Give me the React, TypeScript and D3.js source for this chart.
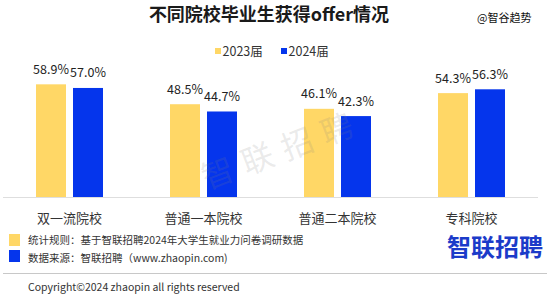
import React from "react";
import * as d3 from "d3";

const categories = ["双一流院校", "普通一本院校", "普通二本院校", "专科院校"];
const seriesNames = ["2023届", "2024届"];
const values2023 = [58.9, 48.5, 46.1, 54.3];
const values2024 = [57.0, 44.7, 42.3, 56.3];
const colors = ["#FFD766", "#0535EC"];
const watermarkChars = ["智", "联", "招", "聘"];

const W = 554;
const H = 295;
const FONT = '"Noto Sans CJK SC", "Noto Sans", sans-serif';

export default function App() {
  const x0 = d3.scaleBand<string>().domain(categories).range([2.5, 538.5]).padding(0);
  const x1 = d3
    .scaleBand<string>()
    .domain(seriesNames)
    .range([x0.bandwidth() / 2 - 33.5, x0.bandwidth() / 2 + 33.5])
    .paddingInner(7 / 37)
    .paddingOuter(0);
  const y = d3.scaleLinear().domain([0, 100]).range([197, 5.7]);
  const series = [values2023, values2024];

  const wmStart: [number, number] = [217, 171];
  const wmEnd: [number, number] = [336, 127];

  return (
    <svg
      width={W}
      height={H}
      style={{ position: "absolute", left: 0, top: 0, background: "#fff" }}
      fontFamily={FONT}
    >
      <rect x={0} y={0} width={W} height={H} fill="#fff" />

      {/* title */}
      <text x={269} y={21} textAnchor="middle" fontSize={18} fontWeight="bold" fill="#1a1a1a">
        不同院校毕业生获得offer情况
      </text>
      <text x={477} y={22} fontSize={11} fill="#111">
        @智谷趋势
      </text>

      {/* legend */}
      {seriesNames.map((s, i) => {
        const lx = [215, 281][i];
        return (
          <g key={s}>
            <rect x={lx} y={48} width={6} height={6} fill={colors[i]} />
            <text x={lx + 7.5} y={56} fontSize={12.5} fill="#333">
              {s}
            </text>
          </g>
        );
      })}

      {/* bars */}
      {categories.map((c, ci) => (
        <g key={c} transform={`translate(${x0(c)},0)`}>
          {seriesNames.map((s, si) => {
            const v = series[si][ci];
            const bx = x1(s) as number;
            return (
              <g key={s}>
                <rect x={bx} y={y(v)} width={x1.bandwidth()} height={y(0) - y(v)} fill={colors[si]} />
                <text
                  x={bx + x1.bandwidth() / 2}
                  y={y(v) - 10.5}
                  textAnchor="middle"
                  fontSize={12.5}
                  fill="#222"
                >
                  {v.toFixed(1)}%
                </text>
              </g>
            );
          })}
          <text
            x={x0.bandwidth() / 2}
            y={222.5}
            textAnchor="middle"
            fontSize={13}
            fill="#333"
          >
            {c}
          </text>
        </g>
      ))}
      <line x1={3} x2={538} y1={197.5} y2={197.5} stroke="#dedede" strokeWidth={1} />

      {/* watermark, drawn over the bars */}
      {watermarkChars.map((ch, i) => {
        const t = i / (watermarkChars.length - 1);
        const cx = wmStart[0] + (wmEnd[0] - wmStart[0]) * t;
        const cy = wmStart[1] + (wmEnd[1] - wmStart[1]) * t;
        return (
          <text
            key={ch}
            x={0}
            y={0}
            transform={`translate(${cx},${cy}) rotate(-21)`}
            textAnchor="middle"
            dominantBaseline="central"
            fontSize={32}
            fill="#808080"
            fillOpacity={0.17}
          >
            {ch}
          </text>
        );
      })}

      {/* footer */}
      <rect x={9} y={234} width={11} height={12} fill={colors[0]} />
      <rect x={9} y={250} width={11} height={12} fill={colors[1]} />
      <text x={28} y={243.5} fontSize={10.5} fill="#333">
        统计规则：基于智联招聘2024年大学生就业力问卷调研数据
      </text>
      <text x={28} y={262} fontSize={10.5} fill="#333">
        数据来源：智联招聘（www.zhaopin.com)
      </text>
      <text x={447} y={255.5} fontSize={24} fontWeight="bold" fill="#1B3BC9">
        智联招聘
      </text>
      <line x1={3} x2={547} y1={273.5} y2={273.5} stroke="#c8c8c8" strokeWidth={1} />
      <text x={28} y={291} fontSize={10.5} fill="#333">
        Copyright©2024 zhaopin all rights reserved
      </text>
    </svg>
  );
}
